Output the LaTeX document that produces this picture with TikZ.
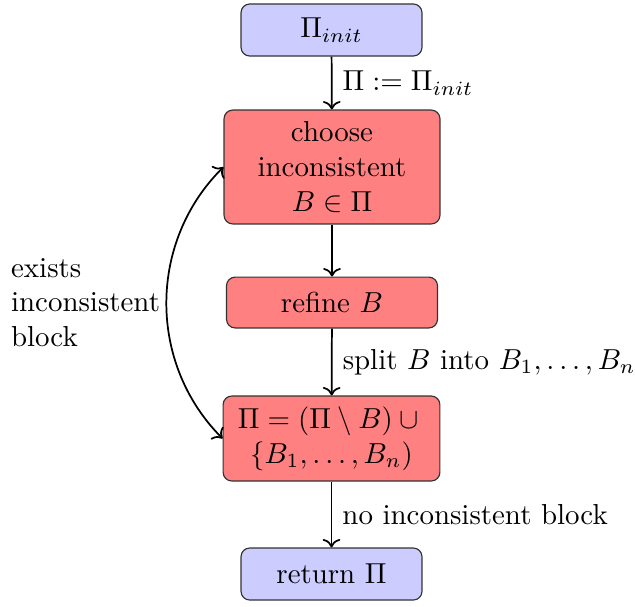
\documentclass[tikz,border=0pt]{standalone}
\usetikzlibrary{arrows.meta}
\begin{document}
\begin{tikzpicture}[x=0.346pt, y=-0.346pt,
  box/.style={draw=black!80, rounded corners=3pt, align=center, inner sep=2pt, line width=0.4pt},
  bluebox/.style={box, fill=blue!20},
  redbox/.style={box, fill=red!50},
  flow/.style={->, semithick},
  lbl/.style={right, inner sep=3.5pt}]
\useasboundingbox (0,0) rectangle (635,606);
\node[bluebox, minimum width=62.6pt, minimum height=18pt] (init) at (331.5,30) {$\Pi_{init}$};
\node[redbox, minimum width=74.7pt, minimum height=39.4pt] (choose) at (332,167) {choose\\inconsistent\\$B\in\Pi$};
\node[redbox, minimum width=73pt, minimum height=17.6pt] (refine) at (332,302.5) {refine $B$};
\node[redbox, minimum width=75pt, minimum height=29.4pt] (update) at (331.5,438.5) {$\Pi=(\Pi\setminus B)\cup{}$\\$\{B_1,\ldots,B_n)$};
\node[bluebox, minimum width=62.6pt, minimum height=18pt] (ret) at (331.5,574) {return $\Pi$};
\draw[flow] (init) -- node[lbl] {$\Pi:=\Pi_{init}$} (choose);
\draw[flow] (choose) -- (refine);
\draw[flow] (refine) -- node[lbl] {split $B$ into $B_1,\ldots,B_n$} (update);
\draw[flow] (update) -- node[lbl] {no inconsistent block} (ret);
\draw[<->, semithick] (update.west) to[bend left=45] node[midway, left, align=left, inner sep=2pt] {exists\\inconsistent\\block} (choose.west);
\end{tikzpicture}
\end{document}
